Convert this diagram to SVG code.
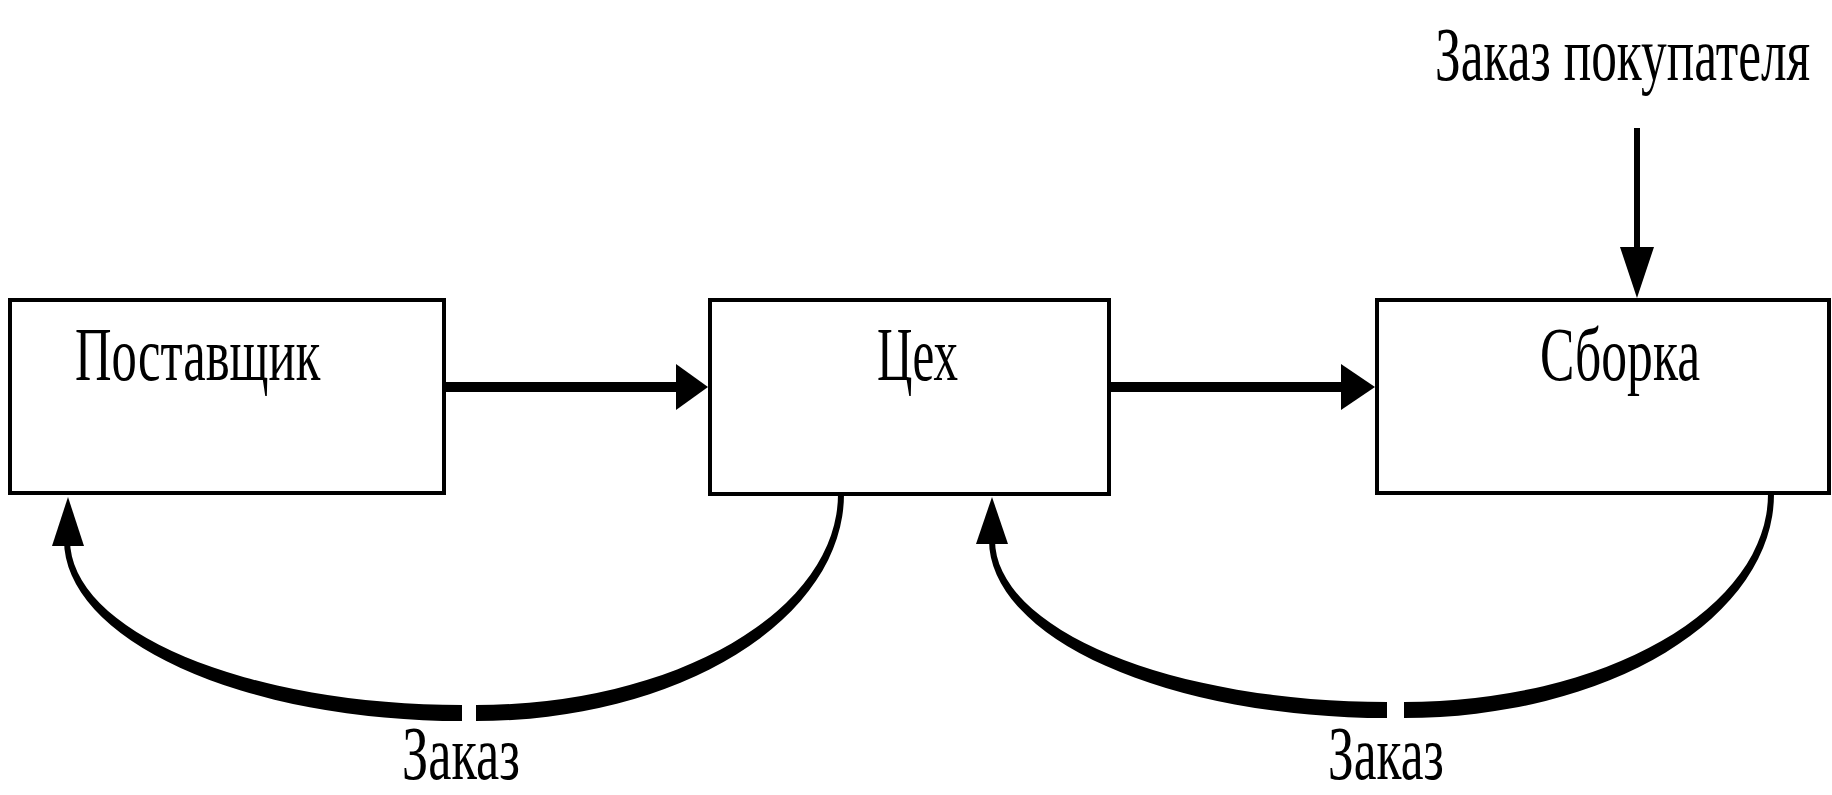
<svg xmlns="http://www.w3.org/2000/svg" width="1832" height="795" viewBox="0 0 1832 795">
  <style>
    .box { fill: #ffffff; stroke: #000000; stroke-width: 4; }
    .lbl { font-family: "Liberation Serif", "Times New Roman", serif; font-size: 76px; fill: #000000; }
    .flow { stroke: #000000; stroke-width: 10; fill: none; }
    .thin { stroke: #000000; stroke-width: 6; fill: none; }
    .head { fill: #000000; stroke: none; }
    .loop { fill: #000000; stroke: none; }
  </style>
  <rect width="1832" height="795" fill="#ffffff"/>

  <!-- labels use a horizontally condensed serif: each text sits in a group scaled by 0.67 on x -->
  <g id="node-supplier">
    <rect class="box" x="10" y="300" width="434" height="193"/>
    <g transform="translate(75 380) scale(0.67 1)">
      <text class="lbl" x="0" y="0" textLength="366" lengthAdjust="spacingAndGlyphs">Поставщик</text>
    </g>
  </g>

  <g id="node-workshop">
    <rect class="box" x="710" y="300" width="399" height="194"/>
    <g transform="translate(877 380) scale(0.67 1)">
      <text class="lbl" x="0" y="0" textLength="121" lengthAdjust="spacingAndGlyphs">Цех</text>
    </g>
  </g>

  <g id="node-assembly">
    <rect class="box" x="1377" y="300" width="452" height="193"/>
    <g transform="translate(1540 380) scale(0.67 1)">
      <text class="lbl" x="0" y="0" textLength="239" lengthAdjust="spacingAndGlyphs">Сборка</text>
    </g>
  </g>

  <g id="connectors">
    <!-- material flow: supplier to workshop -->
    <line class="flow" x1="444" y1="387" x2="680" y2="387"/>
    <polygon class="head" points="676,364 708,387 676,410"/>
    <!-- material flow: workshop to assembly -->
    <line class="flow" x1="1109" y1="387" x2="1345" y2="387"/>
    <polygon class="head" points="1341,364 1375,387 1341,410"/>
    <!-- customer order into assembly -->
    <line class="thin" x1="1637" y1="128" x2="1637" y2="252"/>
    <polygon class="head" points="1620,247 1654,247 1637,298"/>

    <!-- order loop: workshop back to supplier (tapered band, thickest at the bottom) -->
    <path class="loop" d="M 844 494 A 368 227 0 0 1 476 721 L 476 705 A 362 211 0 0 0 838 494 Z"/>
    <path class="loop" d="M 64 540 A 398 181 0 0 0 462 721 L 462 705 A 392 165 0 0 1 70 540 Z"/>
    <polygon class="head" points="52,546 84,546 68,497"/>

    <!-- order loop: assembly back to workshop -->
    <path class="loop" d="M 1774 494 A 370 224 0 0 1 1404 718 L 1404 702 A 364 208 0 0 0 1768 494 Z"/>
    <path class="loop" d="M 989 540 A 398 178 0 0 0 1387 718 L 1387 702 A 392 162 0 0 1 995 540 Z"/>
    <polygon class="head" points="976,544 1008,544 992,497"/>
  </g>

  <g id="labels">
    <g transform="translate(1435 80) scale(0.67 1)">
      <text class="lbl" x="0" y="0" textLength="560" lengthAdjust="spacingAndGlyphs">Заказ покупателя</text>
    </g>
    <g transform="translate(402 779) scale(0.67 1)">
      <text class="lbl" x="0" y="0" textLength="176" lengthAdjust="spacingAndGlyphs">Заказ</text>
    </g>
    <g transform="translate(1328 779) scale(0.67 1)">
      <text class="lbl" x="0" y="0" textLength="173" lengthAdjust="spacingAndGlyphs">Заказ</text>
    </g>
  </g>
</svg>
